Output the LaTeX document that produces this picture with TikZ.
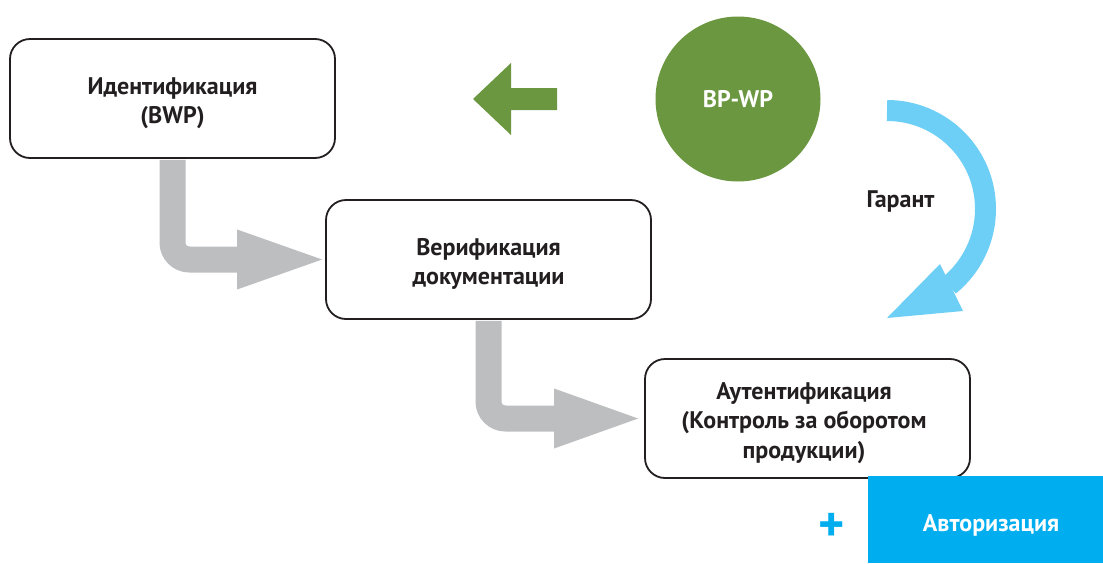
\documentclass[tikz,border=0pt]{standalone}
\usepackage{fontspec}
\setmainfont{PT Sans}
\usetikzlibrary{calc}
\definecolor{txt}{HTML}{231F20}
\definecolor{arrowgray}{HTML}{BCBEC0}
\definecolor{leaf}{HTML}{6A973F}
\definecolor{sky}{HTML}{6DCFF6}
\definecolor{cyanbox}{HTML}{00AEEF}
\begin{document}
\begin{tikzpicture}[x=1pt,y=-1pt,
  stepbox/.style={draw=txt, line width=1.8pt, rounded corners=20pt, minimum width=325pt, minimum height=119pt, inner sep=0pt},
  lbl/.style={font=\fontsize{24}{29.5}\selectfont\bfseries, text=txt, align=center, inner sep=0pt},
  flowshaft/.style={draw=arrowgray, line width=26pt, rounded corners=17pt},
  flowhead/.style={fill=arrowgray},
]
\useasboundingbox (0,0) rectangle (1103,563);

% boxes
\node[stepbox] (b1) at (172.5,98.5) {};
\node[stepbox] (b2) at (488.5,259.5) {};
\node[stepbox] (b3) at (807.5,418.5) {};

\node[lbl] (t1) at (172.5,103) {Идентификация\\(BWP)};
\node[lbl] (t2) at (488.5,264) {Верификация\\документации};
\node[lbl] (t3) at (804,423) {Аутентификация\\(Контроль за оборотом\\продукции)};

% gray flow arrows
\coordinate (h1) at ($(b2.west)+(-88,0)$);
\draw[flowshaft] ($(b1.south)+(0,1)$) |- (h1);
\fill[flowhead] ($(h1)+(0,-30)$) -- ($(b2.west)+(-3,0)$) -- ($(h1)+(0,30)$) -- cycle;

\coordinate (h2) at ($(b3.west)+(-90,0)$);
\draw[flowshaft] ($(b2.south)+(0,1)$) |- (h2);
\fill[flowhead] ($(h2)+(0,-30)$) -- ($(b3.west)+(-6,0)$) -- ($(h2)+(0,30)$) -- cycle;

% green circle and arrow
\node[circle, fill=leaf, minimum size=165pt, inner sep=0pt, text=white, font=\fontsize{24}{29}\selectfont\bfseries] (bp) at (738,99) {BP-WP};
\fill[leaf] (557,88) -- (511,88) -- (511,63) -- (473,99) -- (511,135) -- (511,110) -- (557,110) -- cycle;

% blue curved arrow
\coordinate (arcstart) at (887,110.5);
\draw[sky, line width=21pt] (arcstart) arc[start angle=90, end angle=-51, radius=98.5pt];
\fill[sky] (940,264) -- (963,311) -- (887,318) -- cycle;
\node[lbl] (gar) at (900.5,201) {Гарант};

% authorisation
\node[fill=cyanbox, minimum width=235pt, minimum height=87pt, inner sep=0pt, anchor=north west] (auth) at (868,476) {};
\node[lbl, text=white] (authtext) at (991,525) {Авторизация};
\node[text=cyanbox, inner sep=0pt, font=\fontsize{50}{50}\selectfont\bfseries] (plus) at (832,527) {+};
\end{tikzpicture}
\end{document}
